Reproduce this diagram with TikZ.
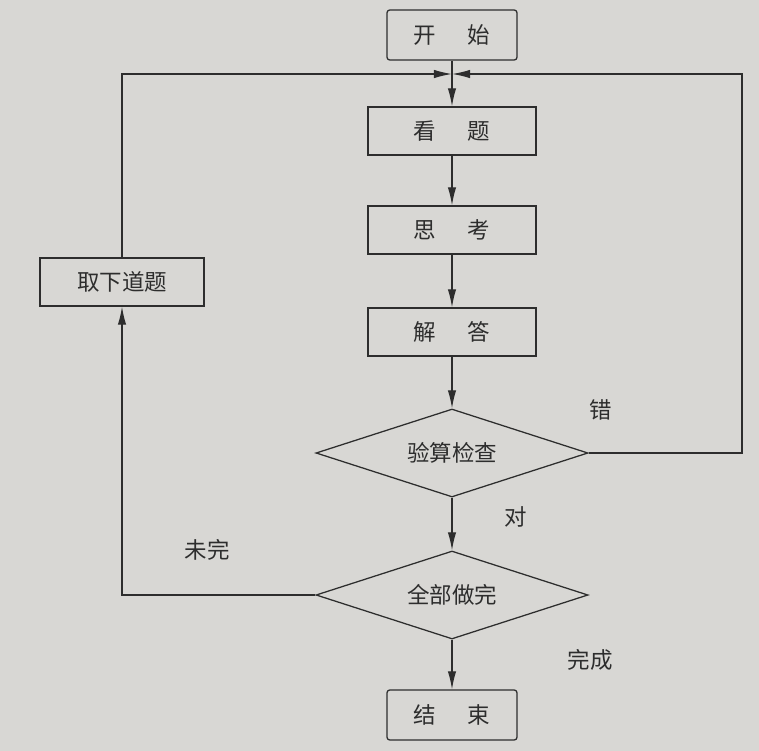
\documentclass[tikz,border=0pt]{standalone}
\usepackage{fontspec}
\newfontfamily\cjk{Noto Sans CJK SC}
\usetikzlibrary{positioning,shapes.geometric,arrows.meta}
\definecolor{paper}{RGB}{216,215,212}
\definecolor{ink}{RGB}{45,45,45}

\begin{document}
\begin{tikzpicture}[x=0.025cm,y=-0.025cm,
	box/.style={draw=ink,line width=0.9pt,minimum width=4.2cm,minimum height=1.2cm,
		font=\cjk\fontsize{16}{19}\selectfont,text=ink},
	term/.style={box,rounded corners=2pt,minimum width=3.25cm,minimum height=1.25cm},
	choice/.style={diamond,draw=ink,line width=0.9pt,inner sep=0pt,aspect=3,
		minimum width=6.8cm,minimum height=2.2cm,font=\cjk\fontsize{16}{19}\selectfont,text=ink},
	flow/.style={draw=ink,line width=0.9pt,-{Latex[length=4.5mm,width=2.1mm]}},
	tag/.style={font=\cjk\fontsize{16}{19}\selectfont,text=ink}]
	
	% Nền giấy
	\fill[paper] (0,0) rectangle (759,751);
	\useasboundingbox (0,0) rectangle (759,751);
	
	% Cột chính
	\node[term] (start) at (452,35) {开\hspace{1.4em}始};
	\node[box] (read) at (452,131) {看\hspace{1.4em}题};
	\node[box] (think) at (452,230) {思\hspace{1.4em}考};
	\node[box] (solve) at (452,332) {解\hspace{1.4em}答};
	\node[choice] (check) at (452,453) {验算检查};
	\node[choice] (done) at (452,595) {全部做完};
	\node[term] (stop) at (452,715) {结\hspace{1.4em}束};
	
	% Nhánh trái
	\node[box,minimum width=4.1cm] (next) at (122,282) {取下道题};
	
	\coordinate (merge) at (452,74);
	\coordinate (leftc) at (122,74);
	\coordinate (rightc) at (742,74);
	
	% Mũi tên
	\draw[flow] (start) -- (read);
	\draw[flow] (read) -- (think);
	\draw[flow] (think) -- (solve);
	\draw[flow] (solve) -- (check);
	\draw[flow] (check) -- (done);
	\draw[flow] (done) -- (stop);
	\draw[flow] (check.east) -| (rightc) -- (merge);
	\draw[flow] (done.west) -| (next.south);
	\draw[flow] (next.north) -- (leftc) -- (merge);
	
	% Nhãn
	\node[tag] (wrong) at (601,410) {错};
	\node[tag] (right) at (516,517) {对};
	\node[tag] (notyet) at (207,550) {未完};
	\node[tag] (finish) at (590,660) {完成};
\end{tikzpicture}
\end{document}
